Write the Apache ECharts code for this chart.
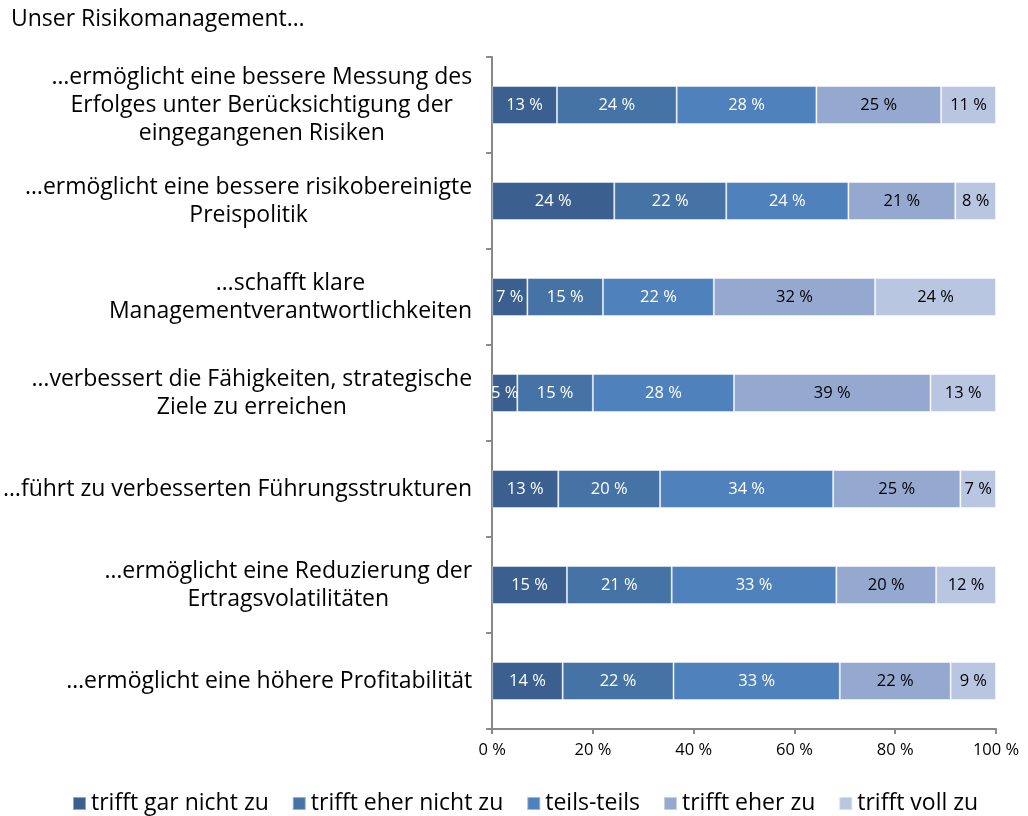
<!DOCTYPE html>
<html>
<head>
<meta charset="utf-8">
<script src="https://cdn.jsdelivr.net/npm/echarts@6/dist/echarts.min.js"></script>
<style>
  html, body { margin: 0; padding: 0; background: #fff; }
  #chart { width: 1028px; height: 816px; }
</style>
</head>
<body>
<div id="chart"></div>
<script>
// Statements (top to bottom), multi-line labels split with \n
const categories = [
  '…ermöglicht eine bessere Messung des\nErfolges unter Berücksichtigung der\neingegangenen Risiken',
  '…ermöglicht eine bessere risikobereinigte\nPreispolitik',
  '…schafft klare\nManagementverantwortlichkeiten',
  '…verbessert die Fähigkeiten, strategische\nZiele zu erreichen',
  '…führt zu verbesserten Führungsstrukturen',
  '…ermöglicht eine Reduzierung der\nErtragsvolatilitäten',
  '…ermöglicht eine höhere Profitabilität'
];

const seriesNames = ['trifft gar nicht zu', 'trifft eher nicht zu', 'teils-teils', 'trifft eher zu', 'trifft voll zu'];

// Answer shares in percent, one array per answer, in category order
const garNicht   = [13, 24,  7,  5, 13, 15, 14];
const eherNicht  = [24, 22, 15, 15, 20, 21, 22];
const teilsTeils = [28, 24, 22, 28, 34, 33, 33];
const eherZu     = [25, 21, 32, 39, 25, 20, 22];
const vollZu     = [11,  8, 24, 13,  7, 12,  9];

const xTicks = [0, 20, 40, 60, 80, 100];

const colors = ['#3b5f8e', '#4673a6', '#4f81bd', '#95a9d0', '#b9c6e1'];
const labelColors = ['#fff', '#fff', '#fff', '#000', '#000'];

const allValues = [garNicht, eherNicht, teilsTeils, eherZu, vollZu];
// rounded shares may not add to exactly 100, so each row is scaled to its total
const rowTotals = categories.map((_, i) => allValues.reduce((s, arr) => s + arr[i], 0));

const FONT = '"Open Sans", sans-serif';

const series = allValues.map((vals, k) => ({
  name: seriesNames[k],
  type: 'bar',
  stack: 'total',
  barWidth: 38,
  data: vals.map((v, i) => ({ value: v / rowTotals[i] * 100, raw: v })),
  itemStyle: { color: colors[k], borderColor: 'rgba(255,255,255,0.45)', borderWidth: 1 },
  label: {
    show: true,
    position: 'inside',
    color: labelColors[k],
    fontFamily: FONT,
    fontSize: 16.5,
    formatter: p => p.data.raw + ' %'
  }
}));

const chart = echarts.init(document.getElementById('chart'), null, { renderer: 'canvas' });
chart.setOption({
  animation: false,
  color: colors,
  title: {
    text: 'Unser Risikomanagement…',
    left: 11, top: 8, padding: 0,
    textStyle: { fontFamily: FONT, fontSize: 23, fontWeight: 'normal', color: '#000' }
  },
  grid: { left: 490, right: 32, top: 57, bottom: 87, containLabel: false },
  xAxis: {
    type: 'value',
    min: 0, max: 100, interval: 20,
    axisLine: { show: true, lineStyle: { color: '#888', width: 2 } },
    axisTick: { show: true, length: 5, lineStyle: { color: '#888', width: 2 } },
    splitLine: { show: false },
    axisLabel: {
      fontFamily: FONT, fontSize: 16.5, color: '#000', margin: 13,
      formatter: v => xTicks.includes(v) ? v + ' %' : ''
    }
  },
  yAxis: {
    type: 'category',
    inverse: true,
    data: categories,
    axisLine: { show: true, lineStyle: { color: '#888', width: 2 } },
    axisTick: { show: true, length: 6, lineStyle: { color: '#888', width: 2 } },
    axisLabel: {
      margin: 20,
      fontFamily: FONT, fontSize: 23, color: '#000', lineHeight: 28,
      formatter: v => v.split('\n').map(l => '{c|' + l + '}').join('\n'),
      rich: { c: { align: 'center', fontFamily: FONT, fontSize: 23, color: '#000', lineHeight: 28 } }
    }
  },
  legend: {
    bottom: -4,
    left: 67,
    itemWidth: 13, itemHeight: 13, itemGap: 23,
    icon: 'rect',
    textStyle: { fontFamily: FONT, fontSize: 23, color: '#000' },
    data: seriesNames
  },
  series: series
});
</script>
</body>
</html>
